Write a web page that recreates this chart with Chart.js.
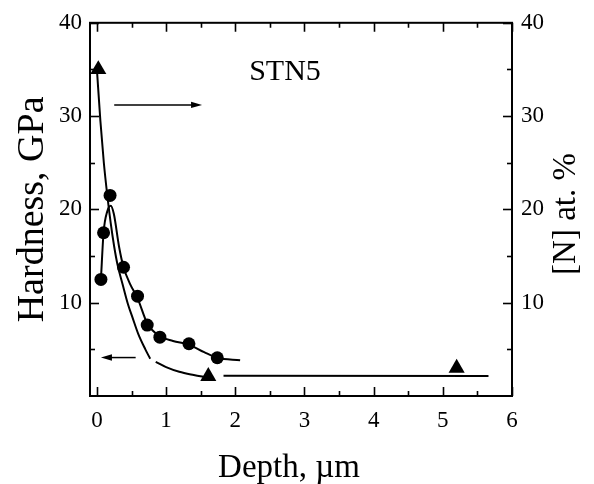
<!DOCTYPE html>
<html>
<head>
<meta charset="utf-8">
<script src="https://cdn.jsdelivr.net/npm/chart.js@4.4.1/dist/chart.umd.min.js"></script>
<style>
  html, body { margin: 0; padding: 0; background: #fff; }
  #wrap { width: 594px; height: 484px; }
</style>
</head>
<body>
<div id="wrap"><canvas id="c" width="594" height="484"></canvas></div>
<script>
// Axis tick values
const depthTicks = [0, 1, 2, 3, 4, 5, 6];
const depthMinorTicks = [0.5, 1.5, 2.5, 3.5, 4.5, 5.5];
const hardTicks = [10, 20, 30, 40];
const hardMinorTicks = [5, 15, 25, 35];
const nTicks = [10, 20, 30, 40];
const nMinorTicks = [5, 15, 25, 35];

// Nanohardness (GPa) measured at each depth (µm)
const hardDepth = [0.058, 0.096, 0.19, 0.385, 0.587, 0.727, 0.91, 1.33, 1.74];
const hardValue = [12.5, 17.5, 21.5, 13.8, 10.7, 7.6, 6.3, 5.6, 4.1];

// Guide line through the hardness data
const hardFitDepth = [0.058, 0.096, 0.15, 0.20, 0.245, 0.32, 0.385, 0.48, 0.587, 0.727, 0.91, 1.10, 1.33, 1.55, 1.74, 2.07];
const hardFitValue = [12.5, 17.5, 19.8, 20.4, 19.5, 16.0, 13.8, 12.0, 10.5, 7.8, 6.4, 5.9, 5.5, 4.7, 4.1, 3.84];

// Nitrogen content (at. %) measured at each depth (µm)
const nDepth = [0.02, 1.61, 5.2];
const nValue = [35.0, 2.1, 3.0];

// Nitrogen profile guide, drawn in three pieces
const nFit1Depth = [0.0, 0.05, 0.10, 0.15, 0.20, 0.25, 0.30, 0.37, 0.45, 0.51, 0.60, 0.70, 0.77];
const nFit1Value = [35.0, 29.5, 25.0, 21.5, 18.5, 16.0, 14.0, 12.0, 9.8, 8.5, 6.6, 5.0, 4.0];
const nFit2Depth = [0.85, 1.0, 1.19, 1.40, 1.58];
const nFit2Value = [3.66, 3.1, 2.6, 2.25, 2.0];
const nFit3Depth = [1.83, 5.66];
const nFit3Value = [2.18, 2.15];

// Arrows pointing at the axis each curve belongs to: [depth, value]
const arrowToRight = [[0.25, 31.2], [1.52, 31.2]];
const arrowToLeft = [[0.56, 4.12], [0.058, 4.12]];

const SERIF = '"Liberation Serif", "Times New Roman", serif';

function pts(xs, ys) { return xs.map((x, i) => ({ x: x, y: ys[i] })); }

// Frame, inward ticks, arrows, panel label and the x / right-hand titles
const decorations = {
  id: 'decorations',
  afterDraw(chart) {
    const { ctx, chartArea: a, scales } = chart;
    const sx = scales.x, sy = scales.y, sy2 = scales.y2;
    ctx.save();
    ctx.strokeStyle = '#000';
    ctx.lineWidth = 2;
    ctx.strokeRect(a.left, a.top, a.right - a.left, a.bottom - a.top);

    ctx.lineWidth = 1.6;
    const hTick = (vals, len) => vals.forEach(v => {
      const px = Math.round(sx.getPixelForValue(v)) + 0.5;
      ctx.beginPath();
      ctx.moveTo(px, a.bottom); ctx.lineTo(px, a.bottom - len);
      ctx.moveTo(px, a.top); ctx.lineTo(px, a.top + len);
      ctx.stroke();
    });
    hTick(depthTicks, 9);
    hTick(depthMinorTicks, 5);
    const vTick = (scale, vals, len, left) => vals.forEach(v => {
      const py = Math.round(scale.getPixelForValue(v)) + 0.5;
      const x0 = left ? a.left : a.right;
      ctx.beginPath();
      ctx.moveTo(x0, py); ctx.lineTo(left ? x0 + len : x0 - len, py);
      ctx.stroke();
    });
    vTick(sy, hardTicks, 9, true);
    vTick(sy, hardMinorTicks, 5, true);
    vTick(sy2, nTicks, 9, false);
    vTick(sy2, nMinorTicks, 5, false);

    const arrow = (seg) => {
      const x0 = sx.getPixelForValue(seg[0][0]), y0 = sy.getPixelForValue(seg[0][1]);
      const x1 = sx.getPixelForValue(seg[1][0]), y1 = sy.getPixelForValue(seg[1][1]);
      const dir = Math.sign(x1 - x0);
      ctx.lineWidth = 1.5;
      ctx.beginPath();
      ctx.moveTo(x0, y0); ctx.lineTo(x1 - dir * 8, y1);
      ctx.stroke();
      ctx.beginPath();
      ctx.moveTo(x1, y1);
      ctx.lineTo(x1 - dir * 11, y1 - 3.2);
      ctx.lineTo(x1 - dir * 11, y1 + 3.2);
      ctx.closePath();
      ctx.fillStyle = '#000';
      ctx.fill();
    };
    arrow(arrowToRight);
    arrow(arrowToLeft);

    ctx.fillStyle = '#000';
    ctx.textAlign = 'center';
    ctx.textBaseline = 'alphabetic';
    ctx.font = '30px ' + SERIF;
    ctx.fillText('STN5', 285, 80);

    ctx.font = '33px ' + SERIF;
    ctx.fillText('Depth, µm', 289, 477);

    ctx.translate(575, 214);
    ctx.rotate(-Math.PI / 2);
    ctx.font = '33px ' + SERIF;
    ctx.fillText('[N] at. %', 0, 0);
    ctx.restore();
  }
};

const tickFont = { family: SERIF, size: 23 };

new Chart(document.getElementById('c'), {
  type: 'scatter',
  data: {
    datasets: [
      { label: 'Hardness', data: pts(hardDepth, hardValue), yAxisID: 'y',
        pointStyle: 'circle', pointRadius: 6.5, pointHoverRadius: 6.5,
        backgroundColor: '#000', borderColor: '#000', borderWidth: 0, showLine: false },
      { label: '[N]', data: pts(nDepth, nValue), yAxisID: 'y2',
        pointStyle: 'triangle', pointRadius: 9.3, pointHoverRadius: 9.3,
        backgroundColor: '#000', borderColor: '#000', borderWidth: 0, showLine: false },
      { label: 'Hardness guide', data: pts(hardFitDepth, hardFitValue), yAxisID: 'y',
        showLine: true, pointRadius: 0, borderColor: '#000', borderWidth: 2,
        cubicInterpolationMode: 'monotone', fill: false },
      { label: '[N] guide 1', data: pts(nFit1Depth, nFit1Value), yAxisID: 'y2',
        showLine: true, pointRadius: 0, borderColor: '#000', borderWidth: 2,
        cubicInterpolationMode: 'monotone', fill: false },
      { label: '[N] guide 2', data: pts(nFit2Depth, nFit2Value), yAxisID: 'y2',
        showLine: true, pointRadius: 0, borderColor: '#000', borderWidth: 2,
        cubicInterpolationMode: 'monotone', fill: false },
      { label: '[N] guide 3', data: pts(nFit3Depth, nFit3Value), yAxisID: 'y2',
        showLine: true, pointRadius: 0, borderColor: '#000', borderWidth: 2, fill: false }
    ]
  },
  options: {
    responsive: false,
    devicePixelRatio: 1,
    animation: false,
    events: [],
    layout: { padding: { top: 21, left: 0, right: 0, bottom: 0 } },
    plugins: { legend: { display: false }, tooltip: { enabled: false } },
    scales: {
      x: {
        type: 'linear', position: 'bottom', min: -0.1, max: 6,
        grid: { display: false, drawTicks: false },
        border: { display: false },
        afterBuildTicks: s => { s.ticks = depthTicks.map(v => ({ value: v })); },
        afterFit: s => { s.height = 88; },
        ticks: { font: tickFont, color: '#000', padding: 11, maxRotation: 0 }
      },
      y: {
        type: 'linear', position: 'left', min: 0, max: 40,
        grid: { display: false, drawTicks: false },
        border: { display: false },
        afterBuildTicks: s => { s.ticks = hardTicks.map(v => ({ value: v })); },
        afterFit: s => { s.width = 90; },
        ticks: { font: tickFont, color: '#000', padding: 8 },
        title: { display: true, text: 'Hardness, GPa', color: '#000',
                 font: { family: SERIF, size: 38 }, padding: { top: 10 } }
      },
      y2: {
        type: 'linear', position: 'right', min: 0, max: 40,
        grid: { display: false, drawTicks: false },
        border: { display: false },
        afterBuildTicks: s => { s.ticks = nTicks.map(v => ({ value: v })); },
        afterFit: s => { s.width = 82; },
        ticks: { font: tickFont, color: '#000', padding: 9 }
      }
    }
  },
  plugins: [decorations]
});
</script>
</body>
</html>
